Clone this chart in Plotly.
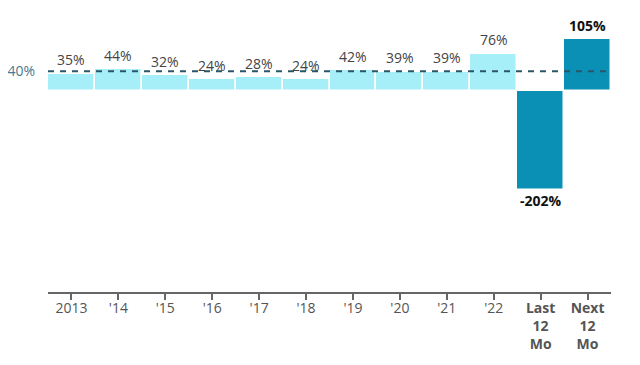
import plotly.graph_objects as go

categories = ["2013", "'14", "'15", "'16", "'17", "'18", "'19", "'20", "'21", "'22", "Last 12 Mo", "Next 12 Mo"]
tick_labels = ["2013", "'14", "'15", "'16", "'17", "'18", "'19", "'20", "'21", "'22",
               "<b>Last</b><br><b>12</b><br><b>Mo</b>", "<b>Next</b><br><b>12</b><br><b>Mo</b>"]
values = [35, 44, 32, 24, 28, 24, 42, 39, 39, 76, -202, 105]
highlight = [False] * 10 + [True, True]
reference_value = 40
reference_label = "40%"

LIGHT = "#a6eef8"
DARK = "#0b90b5"
colors = [DARK if h else LIGHT for h in highlight]

fig = go.Figure()
fig.add_trace(go.Bar(
    x=categories, y=values,
    marker=dict(color=colors, line=dict(color="white", width=1.5)),
    hoverinfo="skip",
))

font_family = "Open Sans, Noto Sans, sans-serif"
for i, (v, h) in enumerate(zip(values, highlight)):
    txt = f"{v}%"
    if h:
        txt = f"<b>{txt}</b>"
    fig.add_annotation(
        x=i, y=v, text=txt, showarrow=False,
        yanchor="middle",
        yshift=14 if v >= 0 else -11,
        font=dict(family=font_family, size=14, color="#111111" if h else "#444444"),
    )

fig.add_shape(type="line", xref="paper", x0=0, x1=1, yref="y",
              y0=reference_value, y1=reference_value,
              line=dict(color="#2b5668", width=2, dash="6px,6px"), layer="above")

# page body has an 8px default margin, so offsets are compensated here
fig.update_layout(
    width=640, height=365,
    margin=dict(l=40, r=37, t=2, b=81, autoexpand=False),
    plot_bgcolor="white", paper_bgcolor="white",
    bargap=0,
    showlegend=False,
    font=dict(family=font_family, size=14, color="#555555"),
)
fig.update_xaxes(
    type="category", range=[-0.5, 11.5],
    tickvals=categories, ticktext=tick_labels,
    showline=True, linecolor="#666666", linewidth=1.5,
    ticks="outside", ticklen=6, tickcolor="#666666", tickwidth=1.5,
    ticklabelstandoff=-4,
    showgrid=False, zeroline=False, automargin=False,
    tickfont=dict(family=font_family, size=14, color="#555555"),
)
fig.update_yaxes(range=[-410, 165], showgrid=False, zeroline=False, showline=False,
                 tickvals=[reference_value], ticktext=[reference_label], ticks="",
                 ticklabelstandoff=12, automargin=False,
                 tickfont=dict(family=font_family, size=14, color="#4a7890"))

fig.write_html("out.html")
